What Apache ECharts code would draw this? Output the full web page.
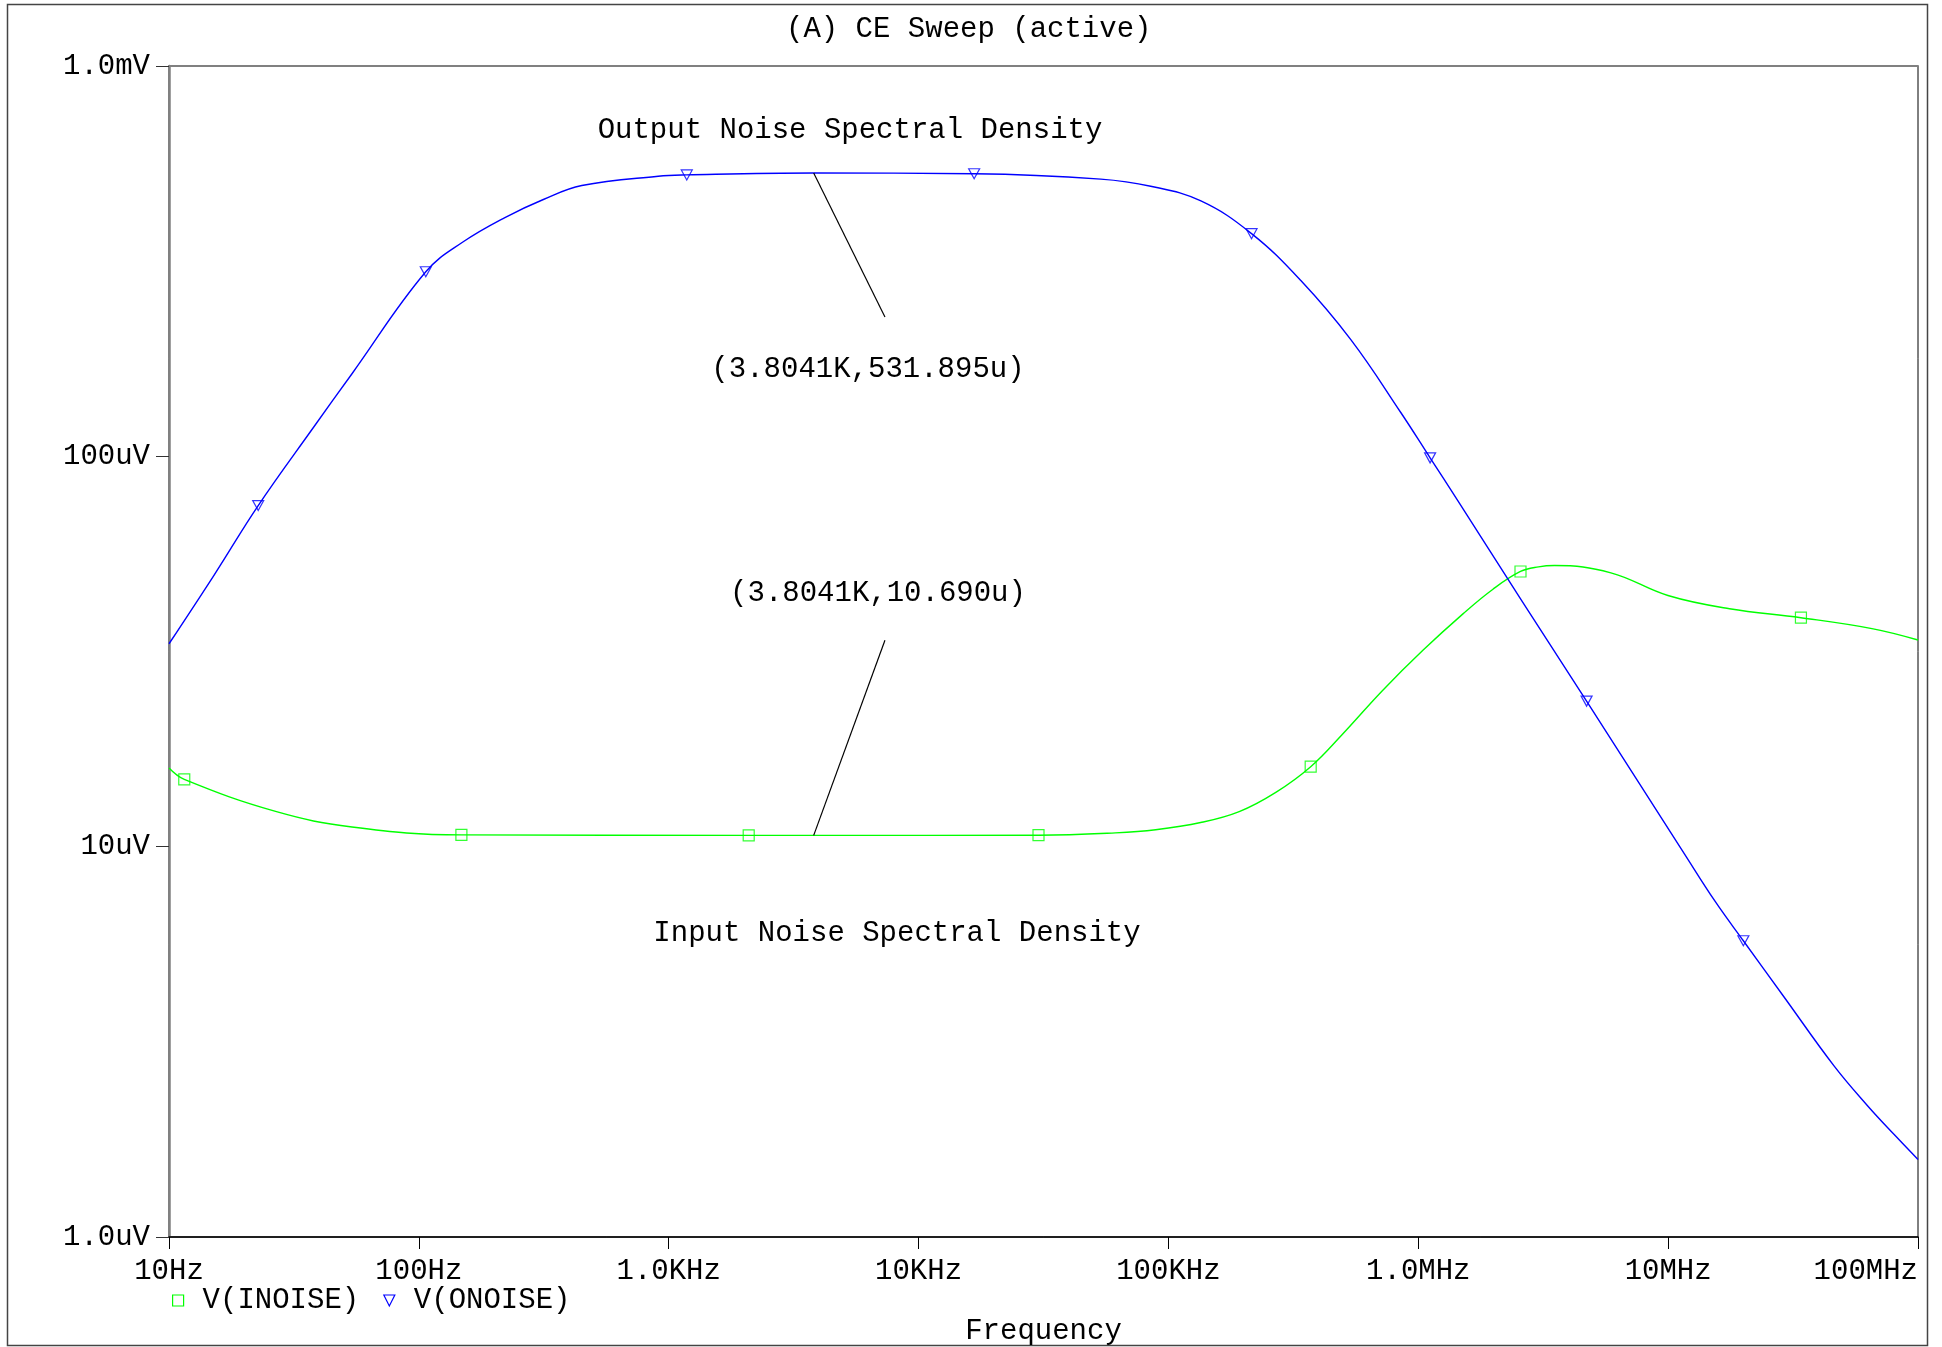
<!DOCTYPE html>
<html><head><meta charset="utf-8">
<script src="https://cdn.jsdelivr.net/npm/echarts@6/dist/echarts.min.js"></script>
<style>html,body{margin:0;padding:0;background:#fff}#c{width:1942px;height:1347px}</style>
</head><body><div id="c"></div>
<script>
// ---- data (frequency in Hz, noise in uV/rtHz) ----
const freqTickLabels = ['10Hz','100Hz','1.0KHz','10KHz','100KHz','1.0MHz','10MHz','100MHz'];
const voltTickLabels = ['1.0uV','10uV','100uV','1.0mV'];

const onoise = [
  [10, 33.1], [15.2, 49.8], [22.75, 74.8], [37.9, 118.7], [54, 162.8], [106.6, 297],
  [150, 354], [221, 409], [315, 455], [449, 494], [908, 522], [1181, 526], [3804.1, 531.9],
  [16690, 529.5], [53600, 513], [84900, 492], [134900, 451], [215100, 372], [338800, 282],
  [537000, 199], [851000, 129.5], [1115000, 99.1], [1439000, 77.0], [2570000, 43.1],
  [4716000, 23.6], [11600000, 9.6], [15400000, 7.25], [20000000, 5.74], [29100000, 4.12],
  [46200000, 2.74], [62800000, 2.17], [80300000, 1.83], [100000000, 1.58]
];
const inoise = [
  [10, 15.9], [11.51, 14.87], [26.7, 12.31], [54, 11.23], [148, 10.72], [2090, 10.69],
  [3804.1, 10.690], [30200, 10.70], [61400, 10.85], [88900, 11.05], [134600, 11.53],
  [192000, 12.3], [270000, 13.8], [371000, 16.03], [493000, 19.3], [718000, 25.1],
  [1041000, 31.8], [1517000, 39.6], [1984000, 45.6], [2565000, 50.7], [3030000, 52.1],
  [3510000, 52.5], [5900000, 50.3], [9980000, 44.0], [17600000, 40.7], [34000000, 38.6],
  [65400000, 36.2], [100000000, 33.85]
];
const onoiseMarkers = [[22.75, 74.8], [106.6, 297], [1181, 526], [16690, 529.5], [215100, 372], [1115000, 99.1], [4716000, 23.6], [20000000, 5.74]];
const inoiseMarkers = [[11.51, 14.87], [148, 10.72], [2090, 10.69], [30200, 10.70], [371000, 16.03], [2565000, 50.7], [34000000, 38.6]];

const cursorOut = [3804.1, 531.895];
const cursorIn = [3804.1, 10.690];
const outLeaderEnd = [7336, 227.5];
const inLeaderEnd = [7336, 33.8];

const FONT = '"Liberation Mono", "Courier New", monospace';
const FS = 29;
const GREEN = '#00ff00';
const BLUE = '#0000ff';
const TRI = 'path://M0,0L10,0L5,10Z';

const chart = echarts.init(document.getElementById('c'), null, {renderer: 'canvas'});
const txt = (text, x, y) => ({
  type: 'text', x: x, y: y, silent: true,
  style: {text: text, font: FS + 'px ' + FONT, fill: '#000', align: 'center', verticalAlign: 'middle'}
});

chart.setOption({
  animation: false,
  backgroundColor: '#fff',
  title: {
    text: '(A) CE Sweep (active)', left: 786, top: 15, padding: 0,
    textStyle: {fontFamily: FONT, fontSize: FS, fontWeight: 'normal', color: '#000'}
  },
  legend: {
    left: 172, top: 1286, padding: 0, itemWidth: 11, itemHeight: 11, itemGap: 24,
    textStyle: {fontFamily: FONT, fontSize: FS, color: '#000', padding: [0, 0, 0, 14]},
    data: [
      {name: 'V(INOISE)', icon: 'rect', itemStyle: {color: 'rgba(0,0,0,0)', borderColor: GREEN, borderWidth: 1.2}},
      {name: 'V(ONOISE)', icon: TRI, itemStyle: {color: 'rgba(0,0,0,0)', borderColor: BLUE, borderWidth: 1.2}}
    ]
  },
  grid: {
    left: 169, top: 66, right: 24, bottom: 110, show: true, borderColor: '#000', borderWidth: 1,
    containLabel: false, outerBoundsMode: 'none'
  },
  xAxis: [{
    type: 'log', logBase: 10, min: 10, max: 1e8, interval: 1,
    name: 'Frequency', nameLocation: 'middle', nameGap: 80,
    nameTextStyle: {fontFamily: FONT, fontSize: FS, color: '#000'},
    axisLine: {show: true, lineStyle: {color: '#000', width: 1.5}},
    axisTick: {show: true, inside: false, length: 12, lineStyle: {color: '#000', width: 1}},
    minorTick: {show: false}, splitLine: {show: false},
    axisLabel: {
      margin: 20, fontFamily: FONT, fontSize: FS, color: '#000', alignMaxLabel: 'right',
      formatter: v => freqTickLabels[Math.round(Math.log10(v)) - 1]
    }
  }, {
    type: 'log', logBase: 10, min: 10, max: 1e8, position: 'top',
    axisLine: {show: true, lineStyle: {color: '#808080', width: 2}},
    axisTick: {show: false}, axisLabel: {show: false}, splitLine: {show: false}
  }],
  yAxis: {
    type: 'log', logBase: 10, min: 1, max: 1000, interval: 1,
    axisLine: {show: true, lineStyle: {color: '#808080', width: 2.5}},
    axisTick: {show: true, inside: false, length: 13, lineStyle: {color: '#333', width: 1}},
    minorTick: {show: false}, splitLine: {show: false},
    axisLabel: {
      margin: 19, fontFamily: FONT, fontSize: FS, color: '#000', padding: [6, 0, 0, 0],
      formatter: v => voltTickLabels[Math.round(Math.log10(v))]
    }
  },
  series: [
    {
      name: 'V(INOISE)', type: 'line', data: inoise, smooth: 0.4, showSymbol: false,
      lineStyle: {color: GREEN, width: 1.4}, itemStyle: {color: GREEN}, z: 3,
      markLine: {
        silent: true, symbol: 'none', label: {show: false},
        lineStyle: {color: '#000', width: 1.2, type: 'solid'},
        data: [[{coord: cursorIn}, {coord: inLeaderEnd}]]
      }
    },
    {
      name: 'V(INOISE)', type: 'scatter', data: inoiseMarkers, symbol: 'rect', symbolSize: 11,
      itemStyle: {color: 'rgba(0,0,0,0)', borderColor: GREEN, borderWidth: 1.2}, z: 4
    },
    {
      name: 'V(ONOISE)', type: 'line', data: onoise, smooth: 0.4, showSymbol: false,
      lineStyle: {color: BLUE, width: 1.4}, itemStyle: {color: BLUE}, z: 3,
      markLine: {
        silent: true, symbol: 'none', label: {show: false},
        lineStyle: {color: '#000', width: 1.2, type: 'solid'},
        data: [[{coord: cursorOut}, {coord: outLeaderEnd}]]
      }
    },
    {
      name: 'V(ONOISE)', type: 'scatter', data: onoiseMarkers, symbol: TRI, symbolSize: [11, 10],
      itemStyle: {color: 'rgba(0,0,0,0)', borderColor: BLUE, borderWidth: 1.2}, z: 4
    }
  ],
  graphic: [
    {type: 'rect', silent: true, z: -1, shape: {x: 7.5, y: 4.5, width: 1920, height: 1341},
     style: {fill: 'none', stroke: '#444', lineWidth: 1.5}},
    txt('Output Noise Spectral Density', 850, 130),
    txt('(3.8041K,531.895u)', 868, 369),
    txt('(3.8041K,10.690u)', 878, 593),
    txt('Input Noise Spectral Density', 897, 933)
  ]
});
</script></body></html>
